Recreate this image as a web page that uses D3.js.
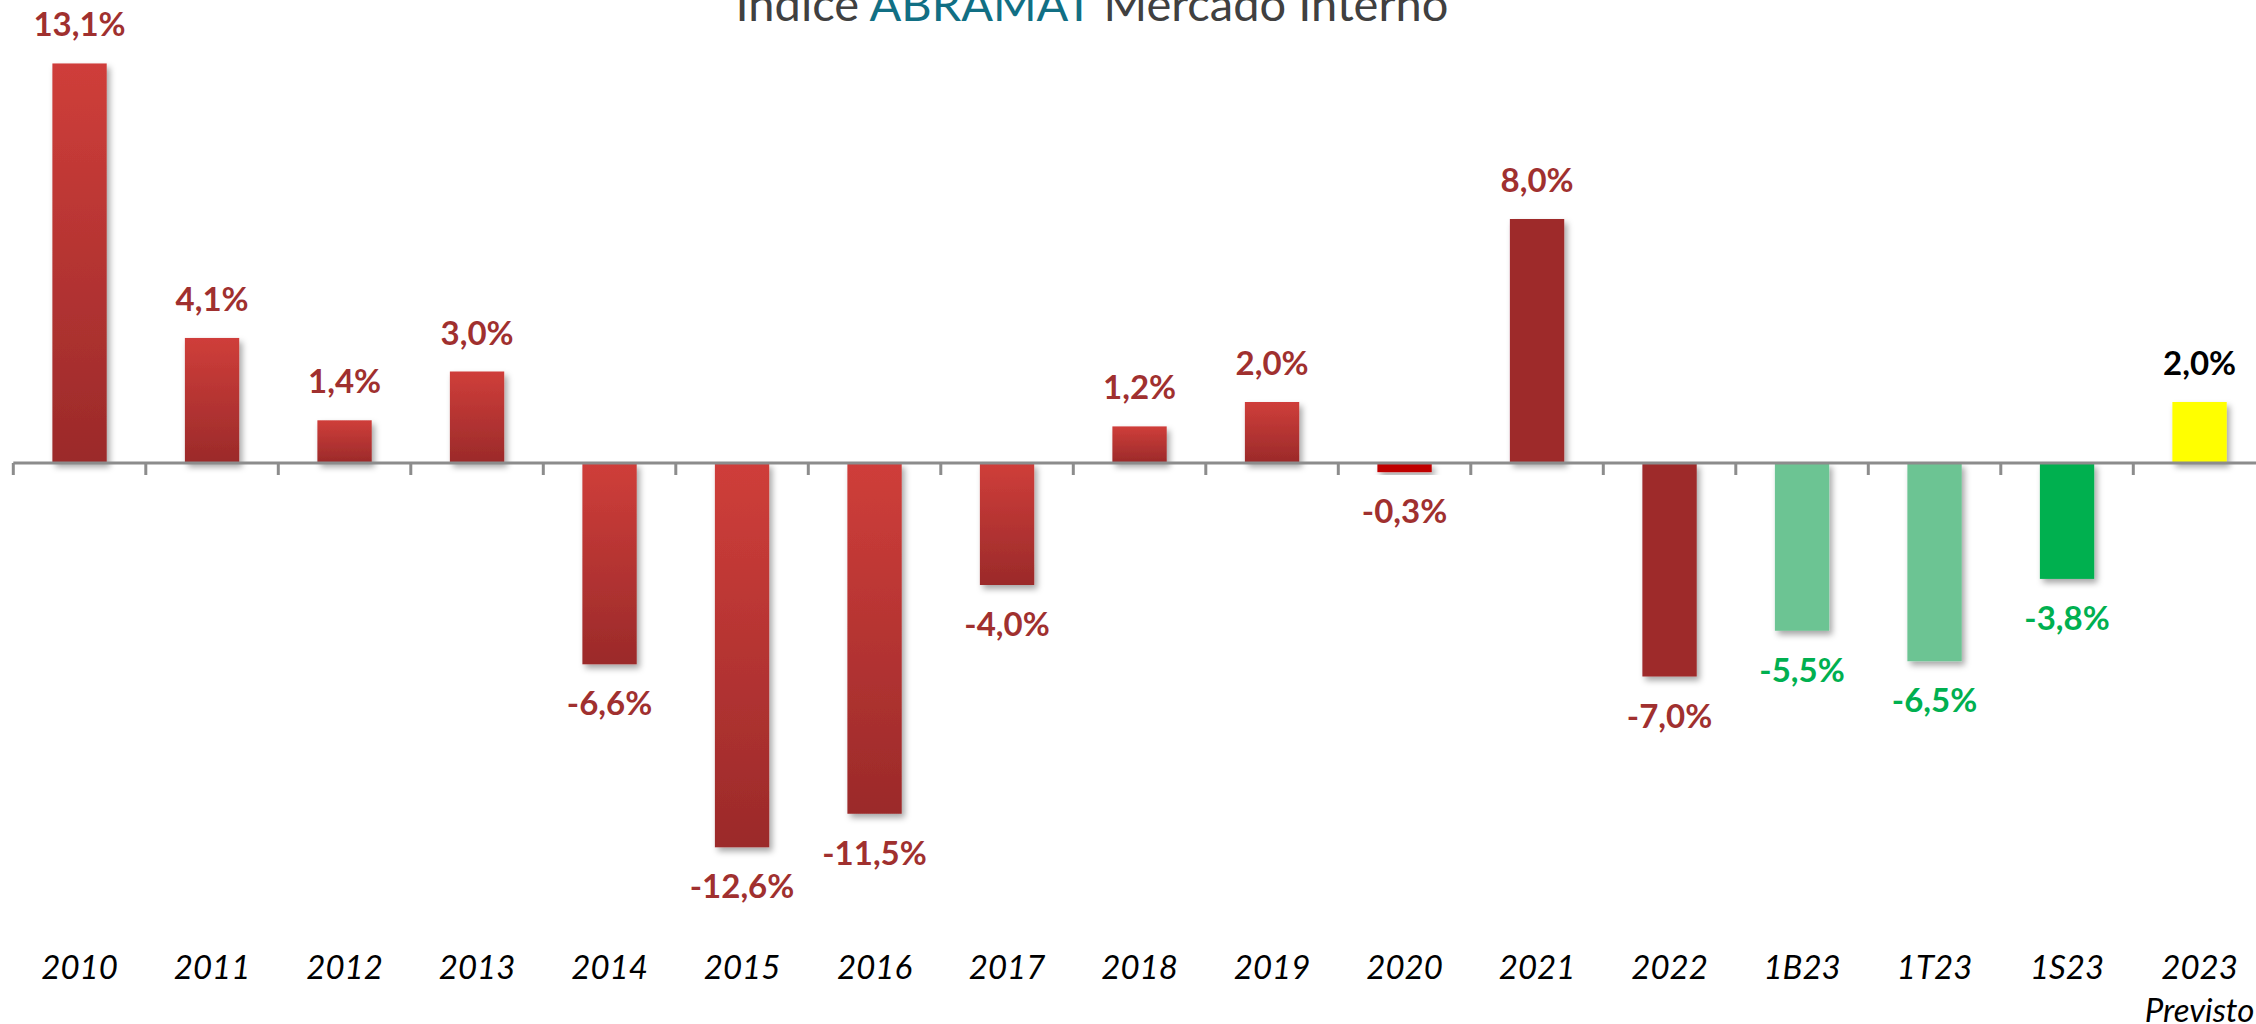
<!DOCTYPE html>
<html>
<head>
<meta charset="utf-8">
<script src="https://cdn.jsdelivr.net/npm/d3@7"></script>
<style>
  html, body { margin: 0; padding: 0; background: #fff; }
  svg { display: block; }
</style>
</head>
<body>
<svg id="chart" width="2256" height="1024"></svg>
<script>
// Índice ABRAMAT - variação do faturamento no mercado interno
var categories = ["2010", "2011", "2012", "2013", "2014", "2015", "2016", "2017", "2018",
                  "2019", "2020", "2021", "2022", "1B23", "1T23", "1S23", "2023"];
var values = [13.1, 4.1, 1.4, 3.0, -6.6, -12.6, -11.5, -4.0, 1.2,
              2.0, -0.3, 8.0, -7.0, -5.5, -6.5, -3.8, 2.0];
// second line under the category label
var subLabels = {"2023": "Previsto"};

chart();

function chart() {
    var svg = d3.select("#chart"),
        axisY = 463,          // where the zero line sits
        pxPerPct = 30.5;

    // bar looks, kept apart from the data
    var fillOf = {
        "2020": "#C00000", "2021": "#9E2A2B", "2022": "#9E2A2B",
        "1B23": "#6CC493", "1T23": "#6CC493", "1S23": "#00B050", "2023": "#FFFF00"
    };
    var labelColOf = {
        "1B23": "#00B050", "1T23": "#00B050", "1S23": "#00B050", "2023": "#000000"
    };

    var defs = svg.append("defs");
    var grad = defs.append("linearGradient")
        .attr("id", "redGrad")
        .attr("x1", 0).attr("y1", 0).attr("x2", 0).attr("y2", 1);
    grad.append("stop").attr("offset", "0%").attr("stop-color", "#CF3E3A");
    grad.append("stop").attr("offset", "100%").attr("stop-color", "#9B2A2A");

    var shadow = defs.append("filter").attr("id", "shadow")
        .attr("x", "-20%").attr("y", "-20%").attr("width", "150%").attr("height", "150%");
    shadow.append("feDropShadow")
        .attr("dx", 3).attr("dy", 4).attr("stdDeviation", 3)
        .attr("flood-color", "#000").attr("flood-opacity", 0.35);

    // x scale, one cell per category, bars centred in the cells
    var x = d3.scaleBand()
        .domain(categories)
        .range([13.3, 13.3 + 132.5 * categories.length])
        .paddingInner(0.59)
        .paddingOuter(0.295);

    var y = d3.scaleLinear()
        .domain([-15, 15])
        .range([axisY + 15 * pxPerPct, axisY - 15 * pxPerPct]);

    var data = categories.map((c, i) => ({cat: c, val: values[i]}));

    // title (its top is cut off in the original)
    var title = svg.append("text")
        .attr("x", 1092).attr("y", 21)
        .attr("text-anchor", "middle")
        .style("font-family", "Lato, 'Open Sans', sans-serif")
        .style("font-size", "47px")
        .attr("fill", "#404040");
    title.append("tspan").text("Índice ");
    title.append("tspan").attr("fill", "#116F84").text("ABRAMAT");
    title.append("tspan").text(" Mercado Interno");

    // bars
    svg.append("g").selectAll("rect")
        .data(data)
        .enter().append("rect")
        .attr("x", d => x(d.cat))
        .attr("width", x.bandwidth())
        .attr("y", d => y(Math.max(0, d.val)))
        .attr("height", d => Math.abs(y(d.val) - y(0)))
        .attr("fill", d => fillOf[d.cat] || "url(#redGrad)")
        .attr("filter", "url(#shadow)");

    // zero line with ticks on the cell borders
    var axisG = svg.append("g").attr("transform", `translate(0,${y(0)})`);
    var x0 = x.range()[0];
    axisG.append("line")
        .attr("x1", x0).attr("x2", x.range()[1])
        .attr("stroke", "#8C8C8C").attr("stroke-width", 3);
    axisG.selectAll("line.tick")
        .data(d3.range(categories.length + 1))
        .enter().append("line").attr("class", "tick")
        .attr("x1", i => x0 + i * x.step()).attr("x2", i => x0 + i * x.step())
        .attr("y1", 0).attr("y2", 12)
        .attr("stroke", "#8C8C8C").attr("stroke-width", 3);

    // value labels
    svg.append("g").selectAll("text")
        .data(data)
        .enter().append("text")
        .attr("x", d => x(d.cat) + x.bandwidth() / 2)
        .attr("y", d => d.val >= 0 ? y(d.val) - 27 : y(d.val) + 51)
        .attr("text-anchor", "middle")
        .style("font-family", "Lato, sans-serif")
        .style("font-weight", "bold")
        .style("font-size", "33px")
        .attr("fill", d => labelColOf[d.cat] || "#A0302F")
        .text(d => d3.format(".1f")(d.val).replace("−", "-").replace(".", ",") + "%");

    // category labels, drawn with a bottom axis without line or ticks
    var catAxis = svg.append("g")
        .attr("transform", "translate(0,979)")
        .call(d3.axisBottom(x).tickSize(0).tickPadding(0));
    catAxis.select(".domain").remove();
    catAxis.selectAll("text")
        .attr("dy", 0)
        .style("font-family", "Lato, sans-serif")
        .style("font-style", "italic")
        .style("font-size", "33px")
        .attr("fill", "#000");
    catAxis.selectAll(".tick text")
        .filter(d => subLabels[d])
        .append("tspan")
        .attr("x", 0).attr("dy", 43)
        .text(d => subLabels[d]);
}
</script>
</body>
</html>
